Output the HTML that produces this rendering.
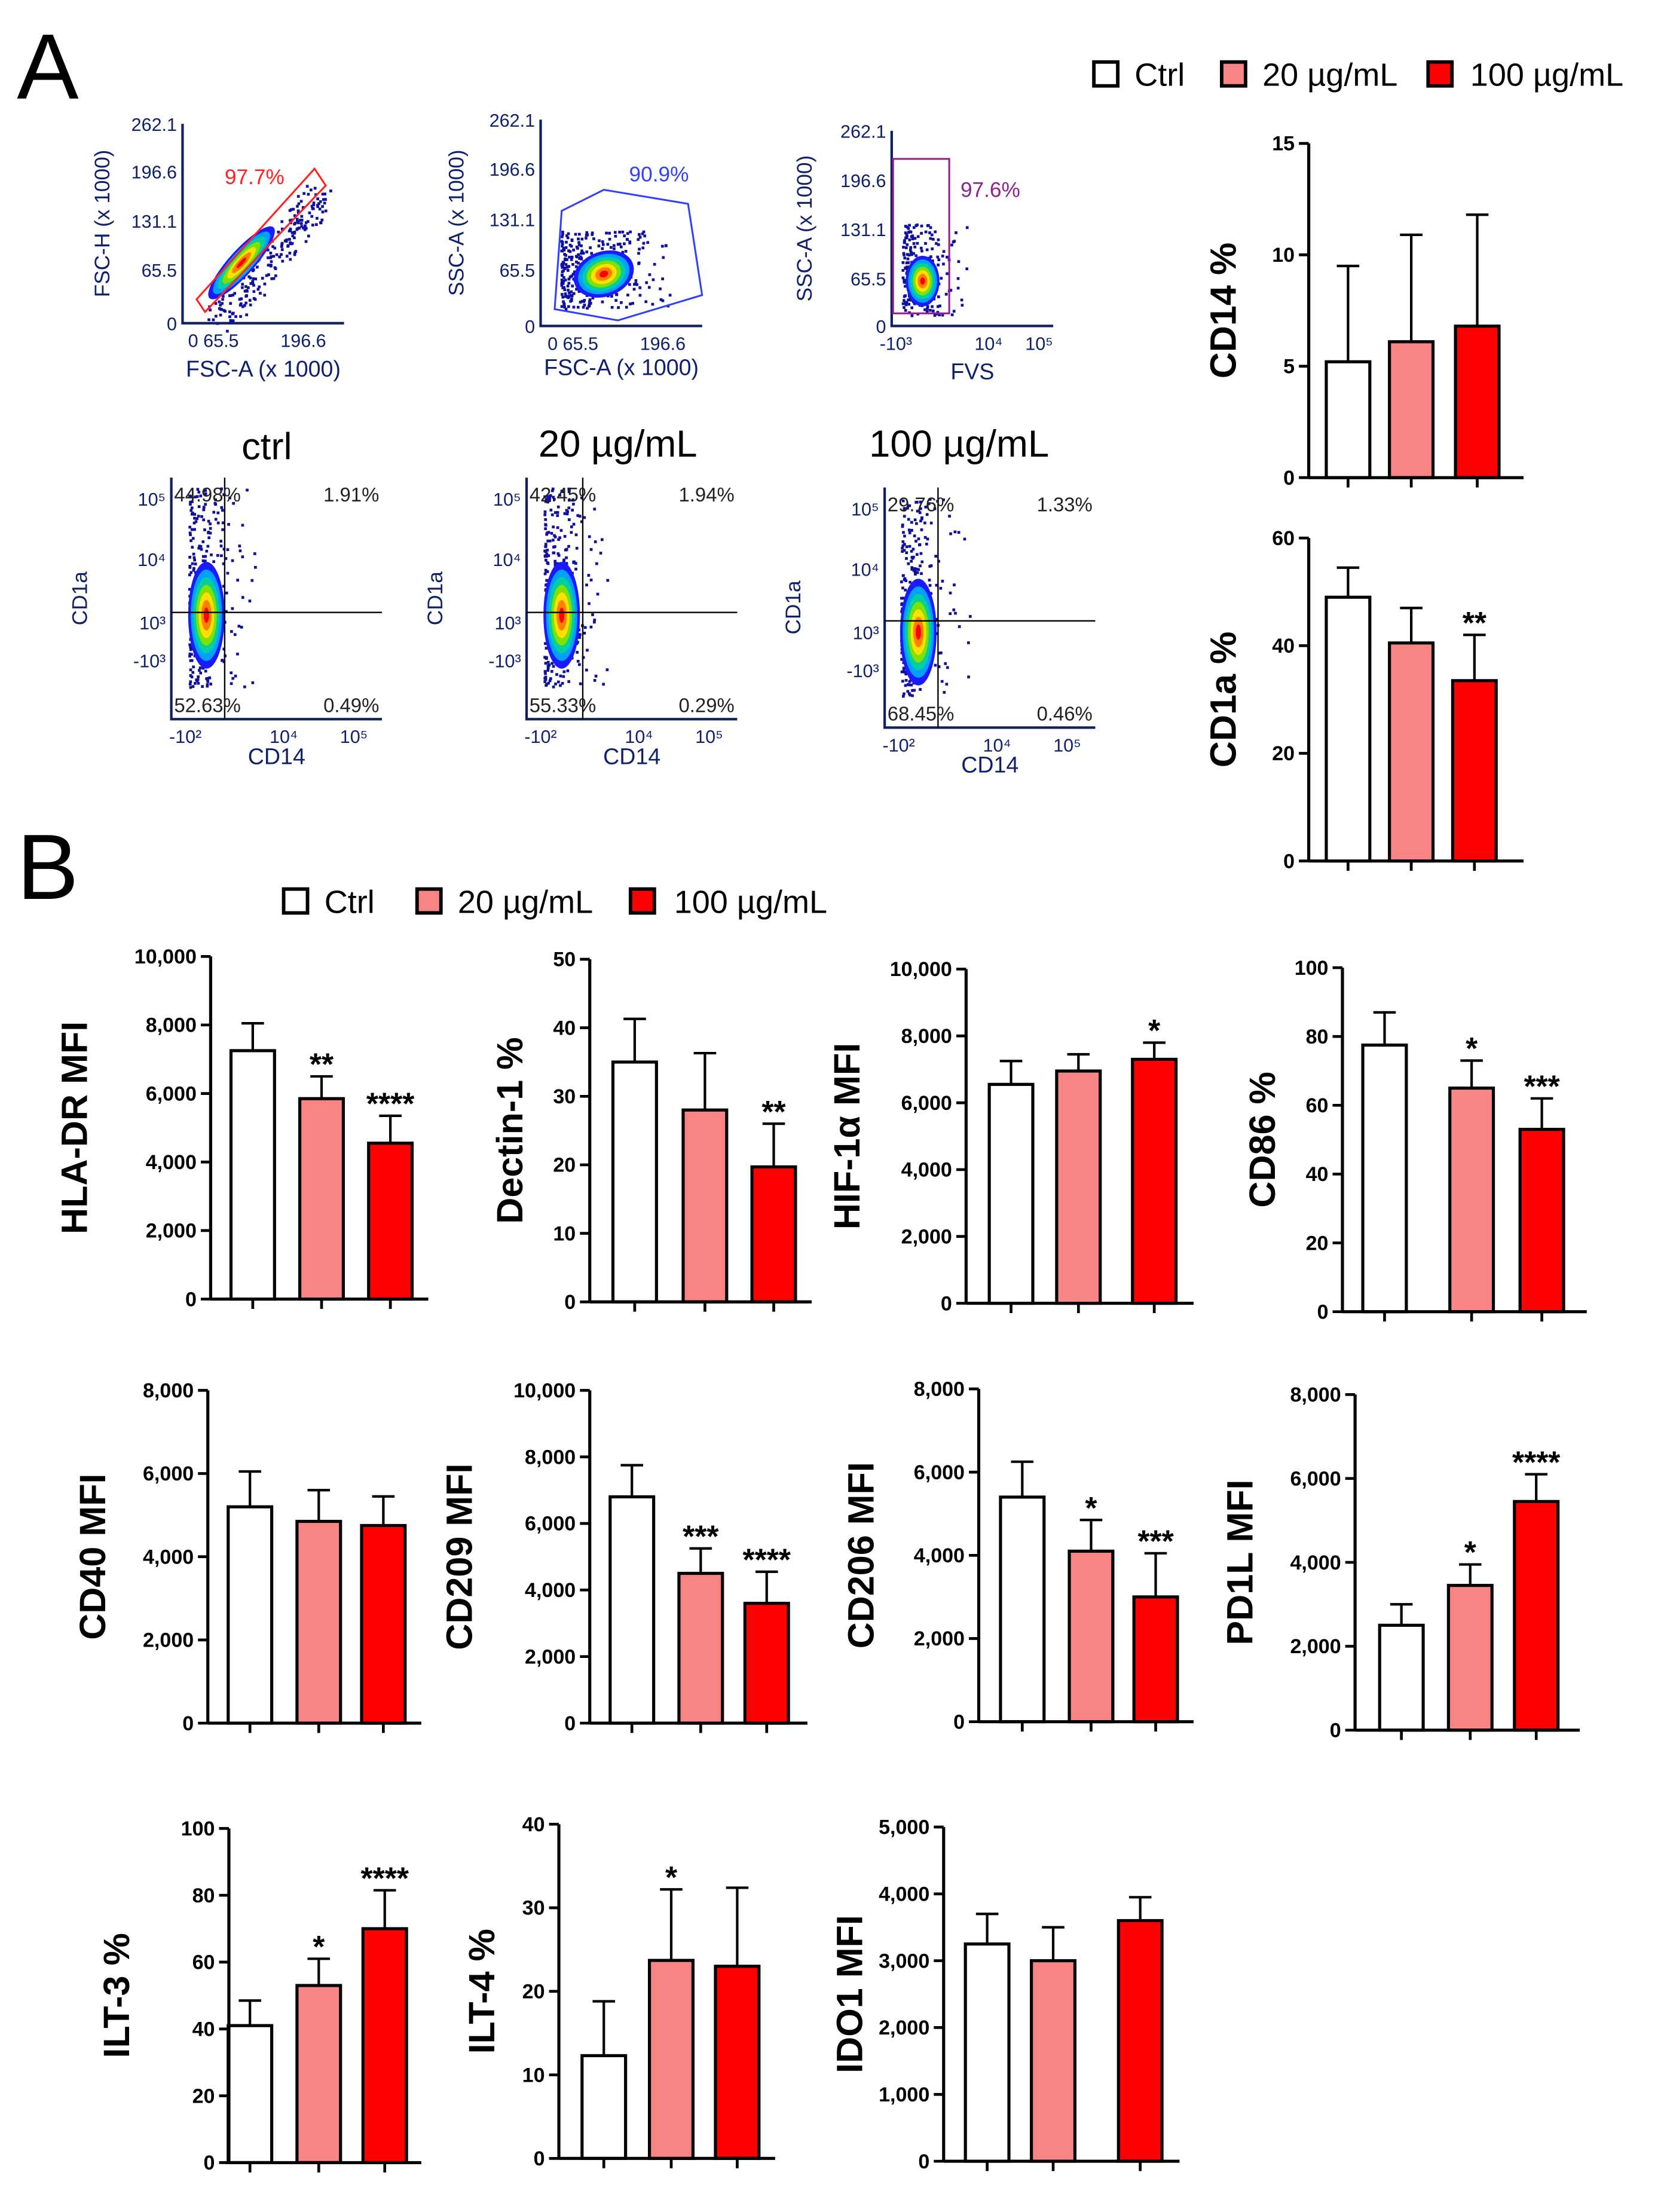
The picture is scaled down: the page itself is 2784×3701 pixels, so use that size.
<!DOCTYPE html>
<html><head><meta charset="utf-8"><style>
html,body{margin:0;padding:0;background:#fff;}
svg{display:block;}
text{font-family:"Liberation Sans",Arial,sans-serif;}
</style></head><body>
<svg id="fig" width="2784" height="3701" viewBox="0 0 1185 1575" xmlns="http://www.w3.org/2000/svg">
<rect width="1185" height="1575" fill="#fff"/>
<text x="12" y="70" font-size="66" font-weight="400">A</text>
<text x="12" y="640" font-size="66" font-weight="400">B</text>
<g>
<rect x="779" y="44" width="17" height="17" fill="#fff" stroke="#000" stroke-width="2.5"/>
<text x="808" y="61" font-size="23">Ctrl</text>
<rect x="870" y="44" width="17" height="17" fill="#f98484" stroke="#000" stroke-width="2.5"/>
<text x="899" y="61" font-size="23">20 µg/mL</text>
<rect x="1017" y="44" width="17" height="17" fill="#ff0000" stroke="#000" stroke-width="2.5"/>
<text x="1047" y="61" font-size="23">100 µg/mL</text>
</g>
<g>
<rect x="202" y="633" width="17" height="17" fill="#fff" stroke="#000" stroke-width="2.5"/>
<text x="231" y="650" font-size="23">Ctrl</text>
<rect x="297" y="633" width="17" height="17" fill="#f98484" stroke="#000" stroke-width="2.5"/>
<text x="326" y="650" font-size="23">20 µg/mL</text>
<rect x="449" y="633" width="17" height="17" fill="#ff0000" stroke="#000" stroke-width="2.5"/>
<text x="480" y="650" font-size="23">100 µg/mL</text>
</g>
<g id="flow"></g>
<text x="190" y="327" font-size="27" text-anchor="middle">ctrl</text>
<text x="440" y="325" font-size="27" text-anchor="middle">20 µg/mL</text>
<text x="683" y="325" font-size="27" text-anchor="middle">100 µg/mL</text>
<g id="bars"></g>
</svg>
<script>
const NS="http://www.w3.org/2000/svg";
const groupNames=["Ctrl","20 µg/mL","100 µg/mL"];
const fills=["#ffffff","#f98484","#ff0000"];

// bar chart data
const cd14Vals=[5.2,6.1,6.8]; const cd14Err=[9.5,10.9,11.8]; const cd14Stars=["","",""]; const cd14Ticks=[0,5,10,15];
const cd1aVals=[49,40.5,33.5]; const cd1aErr=[54.5,47,42]; const cd1aStars=["","","**"]; const cd1aTicks=[0,20,40,60];
const hlaVals=[7250,5850,4550]; const hlaErr=[8050,6500,5350]; const hlaStars=["","**","****"]; const hlaTicks=[0,2000,4000,6000,8000,10000];
const dectVals=[35,28,19.7]; const dectErr=[41.3,36.3,26]; const dectStars=["","","**"]; const dectTicks=[0,10,20,30,40,50];
const hifVals=[6550,6950,7300]; const hifErr=[7250,7450,7800]; const hifStars=["","","*"]; const hifTicks=[0,2000,4000,6000,8000,10000];
const cd86Vals=[77.5,65,53]; const cd86Err=[87,73,62]; const cd86Stars=["","*","***"]; const cd86Ticks=[0,20,40,60,80,100];
const cd40Vals=[5200,4850,4750]; const cd40Err=[6050,5600,5450]; const cd40Stars=["","",""]; const cd40Ticks=[0,2000,4000,6000,8000];
const cd209Vals=[6800,4500,3600]; const cd209Err=[7750,5250,4550]; const cd209Stars=["","***","****"]; const cd209Ticks=[0,2000,4000,6000,8000,10000];
const cd206Vals=[5400,4100,3000]; const cd206Err=[6250,4850,4050]; const cd206Stars=["","*","***"]; const cd206Ticks=[0,2000,4000,6000,8000];
const pdl1Vals=[2500,3450,5450]; const pdl1Err=[3000,3950,6100]; const pdl1Stars=["","*","****"]; const pdl1Ticks=[0,2000,4000,6000,8000];
const ilt3Vals=[41,53,70]; const ilt3Err=[48.5,61,81.5]; const ilt3Stars=["","*","****"]; const ilt3Ticks=[0,20,40,60,80,100];
const ilt4Vals=[12.3,23.7,23]; const ilt4Err=[18.8,32.2,32.4]; const ilt4Stars=["","*",""]; const ilt4Ticks=[0,10,20,30,40];
const idoVals=[3250,3000,3600]; const idoErr=[3700,3500,3950]; const idoStars=["","",""]; const idoTicks=[0,1000,2000,3000,4000,5000];

function mk(tag,attrs,parent){const e=document.createElementNS(NS,tag);for(const k in attrs)e.setAttribute(k,attrs[k]);parent.appendChild(e);return e;}
function fmt(v){return v>=1000?v.toLocaleString('en-US'):String(v);}

function barChart(id,label,vals,errs,stars,ticks,ax,yTop,yBot,centers,xEnd,labX,fs){
  const bars=document.getElementById('bars');
  const g=mk('g',{},bars);
  
  
  const max=ticks[ticks.length-1];
  const y=v=>yBot-(v/max)*(yBot-yTop);
  const bw=31;
  for(let i=0;i<vals.length;i++){
    const cx=centers[i];
    const er=mk('line',{x1:cx,x2:cx,y1:y(vals[i]),y2:y(errs[i]),stroke:'#000','stroke-width':1.8},g);
    
    
    const cap=mk('line',{x1:cx-8,x2:cx+8,y1:y(errs[i]),y2:y(errs[i]),stroke:'#000','stroke-width':1.8},g);
    
    
    const r=mk('rect',{x:cx-bw/2,y:y(vals[i]),width:bw,height:yBot-y(vals[i]),fill:fills[i],stroke:'#000','stroke-width':2.2},g);
    
    
    if(stars[i]){
      const s=mk('text',{x:cx,y:y(errs[i])-1,'font-size':22,'font-weight':'bold','text-anchor':'middle'},g);
      s.textContent=stars[i];
      
      
    }
    const t=mk('line',{x1:cx,x2:cx,y1:yBot,y2:yBot+7,stroke:'#000','stroke-width':2},g);
    
    
  }
  const ya=mk('line',{x1:ax,x2:ax,y1:yTop,y2:yBot,stroke:'#000','stroke-width':2.2},g);
  
  
  const xa=mk('line',{x1:ax,x2:xEnd,y1:yBot,y2:yBot,stroke:'#000','stroke-width':2.2},g);
  
  
  ticks.forEach((tv,j)=>{
    const tl=mk('line',{x1:ax-7,x2:ax,y1:y(tv),y2:y(tv),stroke:'#000','stroke-width':2},g);
    
    
    const tx=mk('text',{x:ax-10,y:y(tv)+5,'font-size':14.5,'font-weight':'bold','text-anchor':'end'},g);
    tx.textContent=fmt(tv);
    
    
  });
  const cy=(yTop+yBot)/2;
  const lab=mk('text',{x:labX,y:cy,'font-size':fs||26,'font-weight':'bold','text-anchor':'middle',transform:`rotate(-90 ${labX} ${cy})`},g);
  lab.textContent=label;
  
  
}

barChart('cd14','CD14 %',cd14Vals,cd14Err,cd14Stars,cd14Ticks,932,102,340,[960,1005,1052],1085,880);
barChart('cd1a','CD1a %',cd1aVals,cd1aErr,cd1aStars,cd1aTicks,932,383,613,[960,1005,1050],1085,880);
barChart('hla-dr','HLA-DR MFI',hlaVals,hlaErr,hlaStars,hlaTicks,150,681,925,[180,229,278],305,62);
barChart('dectin1','Dectin-1 %',dectVals,dectErr,dectStars,dectTicks,420,683,927,[452,502,551],578,372);
barChart('hif1a','HIF-1α MFI',hifVals,hifErr,hifStars,hifTicks,688,690,928,[720,768,822],850,612);
barChart('cd86','CD86 %',cd86Vals,cd86Err,cd86Stars,cd86Ticks,956,689,934,[986,1048,1098],1130,908);
barChart('cd40','CD40 MFI',cd40Vals,cd40Err,cd40Stars,cd40Ticks,148,990,1227,[178,227,273],300,75);
barChart('cd209','CD209 MFI',cd209Vals,cd209Err,cd209Stars,cd209Ticks,420,990,1227,[450,499,546],575,336);
barChart('cd206','CD206 MFI',cd206Vals,cd206Err,cd206Stars,cd206Ticks,697,989,1226,[728,777,823],850,622);
barChart('pd1l','PD1L  MFI',pdl1Vals,pdl1Err,pdl1Stars,pdl1Ticks,965,993,1232,[998,1047,1094],1125,892);
barChart('ilt3','ILT-3 %',ilt3Vals,ilt3Err,ilt3Stars,ilt3Ticks,163,1302,1540,[178,227,274],300,92);
barChart('ilt4','ILT-4 %',ilt4Vals,ilt4Err,ilt4Stars,ilt4Ticks,398,1299,1537,[430,478,525],552,352);
barChart('ido1','IDO1  MFI',idoVals,idoErr,idoStars,idoTicks,672,1301,1539,[703,750,812],840,614);

// flow cytometry pictures
const flow=document.getElementById('flow');
let seed=7;function rnd(){seed=(seed*16807)%2147483647;return seed/2147483647;}
function blob(g,cx,cy,rx,ry,rot){
  const cols=['#1a1aff','#00a0ff','#00d0a0','#80e000','#ffe000','#ff8000','#ff0000'];
  cols.forEach((c,k)=>{const f=1-k/cols.length;mk('ellipse',{cx,cy,rx:rx*f,ry:ry*f,fill:c,transform:`rotate(${rot} ${cx} ${cy})`},g);});
}
function dot(g,x,y){mk('rect',{x:x-1,y:y-1,width:2,height:2,fill:'#1010a0'},g);}
function flowAxes(name,x0,y0,x1,y1,yl,xl,yticks,xticks){
  const g=mk('g',{},flow);
  
  
  mk('polyline',{points:`${x0},${y0} ${x0},${y1} ${x1},${y1}`,fill:'none',stroke:'#102060','stroke-width':1.8},g);
  yticks.forEach(t=>{const e=mk('text',{x:x0-4,y:t[1]+5,'font-size':13,'text-anchor':'end',fill:'#102070'},g);e.textContent=t[0];});
  xticks.forEach(t=>{const e=mk('text',{x:t[1],y:y1+17,'font-size':13,'text-anchor':'middle',fill:'#102070'},g);e.textContent=t[0];});
  const cy=(y0+y1)/2;
  const a=mk('text',{x:yl[0],y:cy,'font-size':15,'text-anchor':'middle',fill:'#102070',transform:`rotate(-90 ${yl[0]} ${cy})`},g);a.textContent=yl[1];
  const b=mk('text',{x:(x0+x1)/2,y:y1+xl[0],'font-size':16,'text-anchor':'middle',fill:'#102070'},g);b.textContent=xl[1];
  return g;
}
let g=flowAxes('fsc-gate-plot',130,88,245,230,[78,'FSC-H (x 1000)'],[38,'FSC-A (x 1000)'],[['262.1',88],['196.6',122],['131.1',157],['65.5',192],['0',230]],[['0 65.5',152],['196.6',216]]);
for(let i=0;i<220;i++){const t=rnd();dot(g,150+t*75+(rnd()-0.3)*22,222-t*90+(rnd()-0.1)*18);}
blob(g,172,187,34,9,-48);
mk('polygon',{points:'140,213 224,120 232,132 146,222',fill:'none',stroke:'#ff2020','stroke-width':1.3},g);
let tt=mk('text',{x:160,y:131,'font-size':15,fill:'#ff2020'},g);tt.textContent='97.7%';

g=flowAxes('ssc-gate-plot',385,85,500,232,[330,'SSC-A (x 1000)'],[35,'FSC-A (x 1000)'],[['262.1',85],['196.6',120],['131.1',156],['65.5',192],['0',232]],[['0 65.5',408],['196.6',472]]);
for(let i=0;i<300;i++){dot(g,400+rnd()*rnd()*90,165+rnd()*55);}
blob(g,430,195,22,16,-20);
mk('polygon',{points:'395,220 400,150 430,135 490,145 500,210 440,228',fill:'none',stroke:'#3040ff','stroke-width':1.3},g);
tt=mk('text',{x:448,y:129,'font-size':15,fill:'#3040ff'},g);tt.textContent='90.9%';

g=flowAxes('fvs-gate-plot',635,93,750,232,[578,'SSC-A (x 1000)'],[38,'FVS'],[['262.1',93],['196.6',128],['131.1',163],['65.5',198],['0',232]],[['-10³',638],['10⁴',704],['10⁵',740]]);
for(let i=0;i<200;i++){dot(g,643+rnd()*rnd()*50,160+rnd()*65);}
blob(g,657,200,12,18,0);
mk('rect',{x:636,y:113,width:40,height:110,fill:'none',stroke:'#902090','stroke-width':1.3},g);
tt=mk('text',{x:684,y:140,'font-size':15,fill:'#902090'},g);tt.textContent='97.6%';

function cdPlot(name,x0,y0,x1,y1,qx,qy,cx,cy,q){
  const g=flowAxes(name,x0,y0,x1,y1,[x0-60,'CD1a'],[32,'CD14'],[['10⁵',y0+15],['10⁴',y0+58],['10³',y0+103],['-10³',y0+130]],[['-10²',x0+10],['10⁴',x0+80],['10⁵',x0+130]]);
  for(let i=0;i<260;i++){dot(g,cx-12+rnd()*rnd()*50,y0+8+rnd()*(y1-y0-30));}
  blob(g,cx,cy,13,38,0);
  mk('line',{x1:x0,x2:x1,y1:qy,y2:qy,stroke:'#000','stroke-width':1},g);
  mk('line',{x1:qx,x2:qx,y1:y0,y2:y1,stroke:'#000','stroke-width':1},g);
  const pos=[[x0+2,y0+17,'start'],[x1-2,y0+17,'end'],[x0+2,y1-5,'start'],[x1-2,y1-5,'end']];
  q.forEach((s,i)=>{const e=mk('text',{x:pos[i][0],y:pos[i][1],'font-size':14,'text-anchor':pos[i][2],fill:'#222'},g);e.textContent=s;});
}
cdPlot('ctrl-cd1a-cd14-plot',122,340,272,512,160,436,147,438,['44.98%','1.91%','52.63%','0.49%']);
cdPlot('20-cd1a-cd14-plot',375,340,525,512,415,436,400,438,['42.45%','1.94%','55.33%','0.29%']);
cdPlot('100-cd1a-cd14-plot',630,347,780,518,668,442,654,450,['29.76%','1.33%','68.45%','0.46%']);
</script>
</body></html>
